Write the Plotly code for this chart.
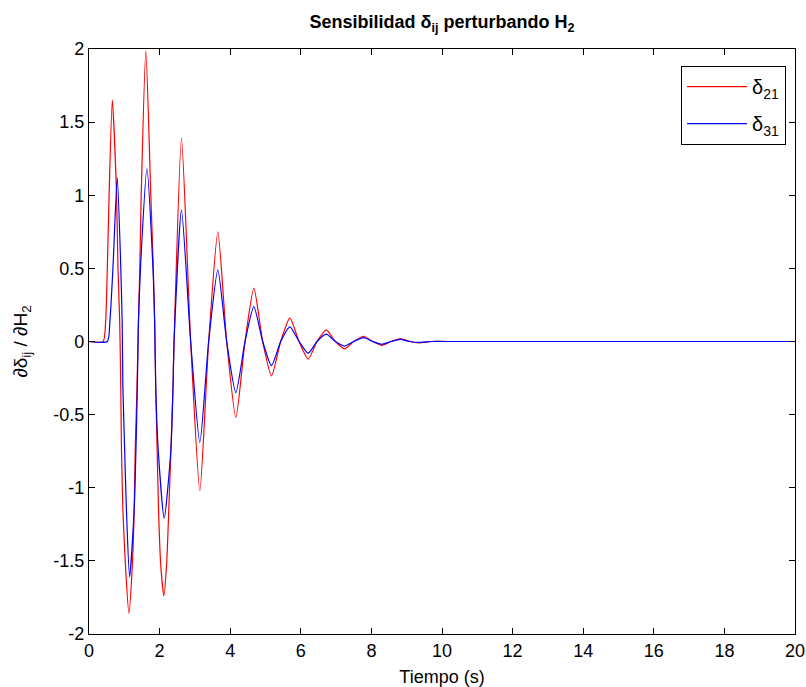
import plotly.graph_objects as go

# Red series: delta_21 (time in s, sensitivity)
red_t = [0, 0.40, 0.47, 0.52, 0.57, 0.66, 0.78, 0.82, 0.87, 0.90, 0.92, 0.96, 1.03, 1.13,
         1.23, 1.28, 1.31, 1.36, 1.40, 1.44, 1.48, 1.61, 1.75, 1.82, 1.86, 1.89, 1.93, 1.97,
         2.03, 2.12, 2.20, 2.26, 2.32, 2.38, 2.41, 2.62, 2.88, 3.14, 3.39, 3.65, 3.90, 4.16,
         4.42, 4.67, 4.92, 5.17, 5.43, 5.69, 5.95, 6.21, 6.46, 6.72, 6.98, 7.24, 7.50, 7.78,
         8.04, 8.30, 8.56, 8.82, 9.08, 9.35, 9.70, 10.2, 20]
red_v = [0, 0, 0.13, 0.51, 1.01, 1.65, 1.01, 0.51, 0.13, -0.31, -0.74, -1.15, -1.52, -1.86,
         -1.52, -1.15, -0.74, -0.31, 0.13, 0.51, 1.01, 1.99, 1.01, 0.51, 0.13, -0.31, -0.74, -1.15,
         -1.52, -1.74, -1.52, -1.15, -0.74, -0.31, 0, 1.39, 0, -1.02, 0, 0.75, 0, -0.52,
         0, 0.365, 0, -0.235, 0, 0.16, 0, -0.12, 0, 0.08, 0, -0.05, 0, 0.036,
         0, -0.026, 0, 0.02, 0, -0.01, 0, 0, 0]

# Blue series: delta_31
blue_t = [0, 0.52, 0.59, 0.68, 0.80, 0.90, 0.94, 0.96, 1.01, 1.06, 1.15, 1.28, 1.33, 1.37,
          1.40, 1.46, 1.64, 1.81, 1.86, 1.89, 1.96, 2.13, 2.32, 2.38, 2.41, 2.62, 2.88, 3.14,
          3.39, 3.65, 3.90, 4.16, 4.42, 4.67, 4.92, 5.17, 5.43, 5.69, 5.95, 6.21, 6.46, 6.72,
          6.98, 7.24, 7.50, 7.78, 8.04, 8.30, 8.56, 8.82, 9.08, 9.35, 9.70, 10.2, 20]
blue_v = [0, 0, 0.13, 0.51, 1.12, 0.51, 0.13, -0.31, -0.74, -1.15, -1.61, -1.15, -0.74, -0.31,
          0.13, 0.51, 1.18, 0.51, 0.13, -0.31, -0.74, -1.21, -0.74, -0.31, 0, 0.90, 0, -0.69,
          0, 0.49, 0, -0.35, 0, 0.238, 0, -0.165, 0, 0.10, 0, -0.08, 0, 0.05,
          0, -0.031, 0, 0.026, 0, -0.019, 0, 0.015, 0, -0.006, 0, 0, 0]

x_ticks = [0, 2, 4, 6, 8, 10, 12, 14, 16, 18, 20]
y_ticks = [-2, -1.5, -1, -0.5, 0, 0.5, 1, 1.5, 2]
y_labels = ["-2", "-1.5", "-1", "-0.5", "0", "0.5", "1", "1.5", "2"]

FONT = "Liberation Sans, Arial, sans-serif"

fig = go.Figure()
fig.add_trace(go.Scatter(x=red_t, y=red_v, mode="lines", name="δ<sub>21</sub>", legendgroup="a",
                         line=dict(color="rgb(255,0,0)", width=1.2, shape="spline", smoothing=0.6)))
fig.add_trace(go.Scatter(x=blue_t, y=blue_v, mode="lines", name="δ<sub>31</sub>", legendgroup="b",
                         line=dict(color="rgb(0,0,255)", width=1.2, shape="spline", smoothing=0.6)))

axis_common = dict(showgrid=False, zeroline=False, showline=True, linecolor="black",
                   linewidth=1.2, mirror="ticks", ticks="inside", ticklen=6,
                   tickcolor="black", tickfont=dict(family=FONT, size=18, color="black"))

fig.update_layout(
    width=806, height=687,
    margin=dict(l=89, r=11, t=49, b=53),
    paper_bgcolor="white", plot_bgcolor="white",
    font=dict(family=FONT, color="black"),
    title=dict(text="<b>Sensibilidad δ<sub>ij</sub> perturbando H<sub>2</sub></b>",
               x=0.5, xanchor="center", xref="paper", y=0.968, yanchor="middle",
               font=dict(family=FONT, size=18, color="black")),
    xaxis=dict(range=[0, 20], tickvals=x_ticks, ticktext=[str(v) for v in x_ticks],
               automargin=False,
               title=dict(text="Tiempo (s)", font=dict(family=FONT, size=18)),
               **axis_common),
    yaxis=dict(range=[-2, 2], tickvals=y_ticks, ticktext=y_labels,
               title=dict(text="∂δ<sub>ij</sub> / ∂H<sub>2</sub>", font=dict(family=FONT, size=19), standoff=20),
               **axis_common),
    legend=dict(x=0.987, y=0.971, xanchor="right", yanchor="top",
                bgcolor="white", bordercolor="black", borderwidth=1.2,
                font=dict(family=FONT, size=20, color="black"),
                itemwidth=60, tracegroupgap=8, entrywidth=76),
    showlegend=True,
)

fig.write_html("out.html")
